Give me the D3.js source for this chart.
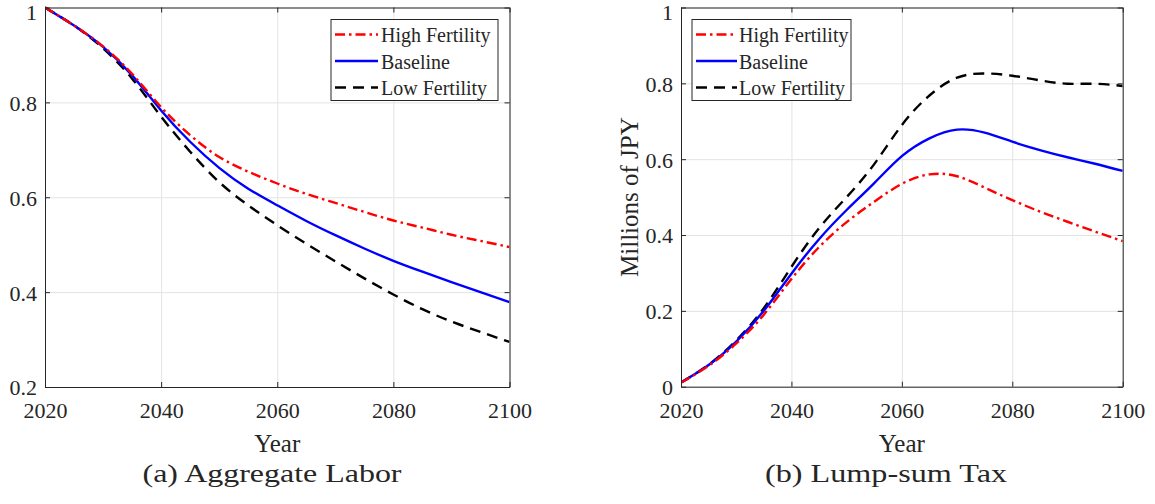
<!DOCTYPE html>
<html>
<head>
<meta charset="utf-8">
<script src="https://cdn.jsdelivr.net/npm/d3@7"></script>
<style>
  html, body { margin: 0; padding: 0; background: #fff; }
  svg { display: block; }
  text { font-family: "Liberation Serif", "Times New Roman", serif; fill: #262626; }
</style>
</head>
<body>
<svg id="chart" width="1155" height="504"></svg>
<script>
// ---------- data ----------
const years = [2020, 2025, 2030, 2035, 2040, 2045, 2050, 2055, 2060, 2065, 2070, 2075, 2080, 2085, 2090, 2095, 2100];

// (a) Aggregate Labor
const laborHigh     = [1.000, 0.962, 0.918, 0.860, 0.790, 0.731, 0.685, 0.654, 0.629, 0.607, 0.588, 0.569, 0.551, 0.536, 0.521, 0.508, 0.495];
const laborBaseline = [1.000, 0.962, 0.917, 0.857, 0.783, 0.717, 0.662, 0.618, 0.583, 0.550, 0.520, 0.492, 0.466, 0.443, 0.421, 0.400, 0.379];
const laborLow      = [1.000, 0.962, 0.914, 0.850, 0.770, 0.696, 0.632, 0.583, 0.541, 0.502, 0.465, 0.429, 0.395, 0.364, 0.338, 0.316, 0.295];

// (b) Lump-sum Tax (millions of JPY)
const taxHigh     = [0.011, 0.055, 0.114, 0.190, 0.284, 0.368, 0.434, 0.488, 0.535, 0.560, 0.555, 0.525, 0.492, 0.462, 0.435, 0.409, 0.384];
const taxBaseline = [0.011, 0.057, 0.119, 0.200, 0.298, 0.389, 0.466, 0.537, 0.608, 0.655, 0.678, 0.670, 0.646, 0.624, 0.605, 0.588, 0.569];
const taxLow      = [0.011, 0.058, 0.122, 0.207, 0.316, 0.418, 0.500, 0.587, 0.690, 0.768, 0.815, 0.826, 0.820, 0.808, 0.799, 0.799, 0.793];

const seriesNames = ["High Fertility", "Baseline", "Low Fertility"];

const xTicks = [2020, 2040, 2060, 2080, 2100];
const xTickLabels = ["2020", "2040", "2060", "2080", "2100"];
const yTicksA = [0.2, 0.4, 0.6, 0.8, 1];
const yTickLabelsA = ["0.2", "0.4", "0.6", "0.8", "1"];
const yTicksB = [0, 0.2, 0.4, 0.6, 0.8, 1];
const yTickLabelsB = ["0", "0.2", "0.4", "0.6", "0.8", "1"];

const captions = ["(a) Aggregate Labor", "(b) Lump-sum Tax"];
const xLabel = "Year";
const yLabelB = "Millions of JPY";

// ---------- styles ----------
const seriesStyle = [
  { color: "#ff0000", dash: "10,4,2.5,4" },
  { color: "#0000ff", dash: null },
  { color: "#000000", dash: "11,7" }
];

const svg = d3.select("#chart");

const panels = [
  { left: 45, right: 509.5, top: 7.5, bottom: 387, yDomain: [0.2, 1], yTicks: yTicksA, yLabels: yTickLabelsA,
    data: [laborHigh, laborBaseline, laborLow], caption: captions[0], capX: 272, capW: 259,
    legend: { x0: 331, x1: 498, lineX0: 335, lineX1: 378, textX: 381 }, ylabel: null },
  { left: 681, right: 1122.7, top: 7.5, bottom: 386.7, yDomain: [0, 1], yTicks: yTicksB, yLabels: yTickLabelsB,
    data: [taxHigh, taxBaseline, taxLow], caption: captions[1], capX: 886, capW: 242,
    legend: { x0: 692, x1: 851, lineX0: 696, lineX1: 737, textX: 739 }, ylabel: yLabelB }
];

panels.forEach((p, pi) => {
  const x = d3.scaleLinear().domain([2020, 2100]).range([p.left, p.right]);
  const y = d3.scaleLinear().domain(p.yDomain).range([p.bottom, p.top]);
  const w = p.right - p.left, h = p.bottom - p.top;
  const g = svg.append("g");

  // grid
  g.append("g").attr("transform", `translate(0,${p.bottom})`)
    .call(d3.axisBottom(x).tickValues(xTicks).tickSize(-h).tickFormat(""))
    .call(s => s.select(".domain").remove())
    .call(s => s.selectAll("line").attr("stroke", "#e3e3e3").attr("stroke-width", 1));
  g.append("g").attr("transform", `translate(${p.left},0)`)
    .call(d3.axisLeft(y).tickValues(p.yTicks).tickSize(-w).tickFormat(""))
    .call(s => s.select(".domain").remove())
    .call(s => s.selectAll("line").attr("stroke", "#e3e3e3").attr("stroke-width", 1));

  // lines
  const clipId = "clip" + pi;
  svg.append("clipPath").attr("id", clipId).append("rect")
    .attr("x", p.left).attr("y", p.top - 2).attr("width", w).attr("height", h + 4);
  const line = d3.line().x((d, i) => x(years[i])).y(d => y(d)).curve(d3.curveNatural);
  const lg = g.append("g").attr("clip-path", `url(#${clipId})`);
  [2, 1, 0].forEach(si => {
    lg.append("path").datum(p.data[si])
      .attr("d", line)
      .attr("fill", "none")
      .attr("stroke", seriesStyle[si].color)
      .attr("stroke-width", 2.4)
      .attr("stroke-dasharray", seriesStyle[si].dash);
  });

  // axes (box with inward ticks)
  const axisColor = "#262626";
  const styleAxis = s => {
    s.select(".domain").attr("stroke", axisColor).attr("stroke-width", 1);
    s.selectAll(".tick line").attr("stroke", axisColor).attr("stroke-width", 1);
  };
  const xb = g.append("g").attr("transform", `translate(0,${p.bottom})`)
    .call(d3.axisBottom(x).tickValues(xTicks).tickSize(-5).tickSizeOuter(0).tickFormat((d, i) => xTickLabels[i]))
    .call(styleAxis);
  xb.selectAll("text").attr("y", 31).attr("dy", 0)
    .style("font-size", "22px").attr("fill", axisColor).style("font-family", '"Liberation Serif", serif');

  const yl = g.append("g").attr("transform", `translate(${p.left},0)`)
    .call(d3.axisLeft(y).tickValues(p.yTicks).tickSize(-5).tickSizeOuter(0).tickFormat((d, i) => p.yLabels[i]))
    .call(styleAxis);
  yl.selectAll("text").attr("x", -8).attr("dy", d => (d === 1 ? "0.55em" : "0.36em"))
    .style("font-size", "22px").attr("fill", axisColor).style("font-family", '"Liberation Serif", serif');

  g.append("g").attr("transform", `translate(0,${p.top})`)
    .call(d3.axisTop(x).tickValues(xTicks).tickSize(-5).tickSizeOuter(0).tickFormat(""))
    .call(styleAxis);
  g.append("g").attr("transform", `translate(${p.right},0)`)
    .call(d3.axisRight(y).tickValues(p.yTicks).tickSize(-5).tickSizeOuter(0).tickFormat(""))
    .call(styleAxis);

  // x label
  g.append("text").attr("x", (p.left + p.right) / 2).attr("y", 451.5)
    .attr("text-anchor", "middle").style("font-size", "25px").text(xLabel);

  // y label
  if (p.ylabel) {
    g.append("text").attr("transform", `translate(638,${(p.top + p.bottom) / 2}) rotate(-90)`)
      .attr("text-anchor", "middle").style("font-size", "25px").text(p.ylabel);
  }

  // caption
  g.append("text").attr("x", p.capX).attr("y", 482)
    .attr("text-anchor", "middle").style("font-size", "26px")
    .attr("textLength", p.capW).attr("lengthAdjust", "spacingAndGlyphs")
    .text(p.caption);

  // legend
  const L = p.legend;
  const lgd = g.append("g");
  lgd.append("rect").attr("x", L.x0).attr("y", 19.5).attr("width", L.x1 - L.x0).attr("height", 81)
    .attr("fill", "#fff").attr("stroke", axisColor).attr("stroke-width", 1);
  const rowY = [34.5, 61, 87.5];
  seriesNames.forEach((name, si) => {
    lgd.append("line").attr("x1", L.lineX0).attr("x2", L.lineX1).attr("y1", rowY[si]).attr("y2", rowY[si])
      .attr("stroke", seriesStyle[si].color).attr("stroke-width", 2.4)
      .attr("stroke-dasharray", seriesStyle[si].dash);
    lgd.append("text").attr("x", L.textX).attr("y", rowY[si] + 7.5)
      .style("font-size", "20px").text(name);
  });
});
</script>
</body>
</html>
